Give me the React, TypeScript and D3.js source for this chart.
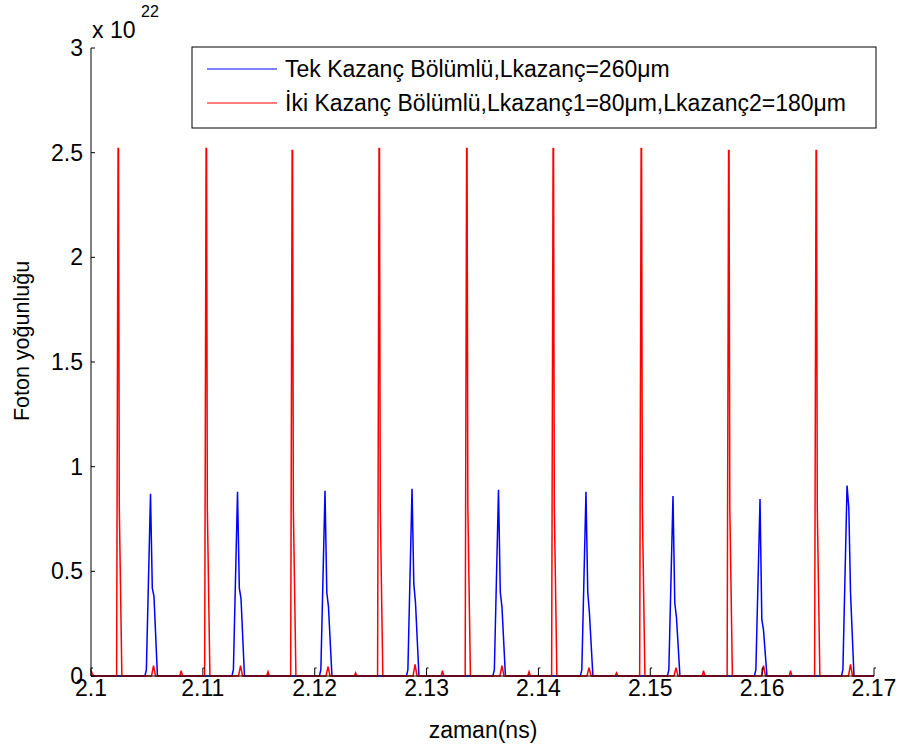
import React from 'react';
import * as d3 from 'd3';

// tick labels
const xTicks = [2.1, 2.11, 2.12, 2.13, 2.14, 2.15, 2.16, 2.17];
const yTicks = [0, 0.5, 1, 1.5, 2, 2.5, 3];

// blue series: single gain section pulses (ns, x1e22)
const bluePeakTimes = [2.10532, 2.1131, 2.12092, 2.1287, 2.13643, 2.14425, 2.15203, 2.15981, 2.16759];
const bluePeakValues = [0.87, 0.88, 0.885, 0.895, 0.89, 0.88, 0.86, 0.845, 0.91];
const blueShoulderA = [0.42, 0.42, 0.4, 0.44, 0.4, 0.4, 0.35, 0.27, 0.8];
const blueShoulderB = [0.38, 0.37, 0.33, 0.35, 0.33, 0.3, 0.28, 0.22, 0.4];
const bluePulseOffsets = [-0.0005, -0.00037, 0, 0.00016, 0.00031, 0.00062];

// red series: two gain section pulses
const redSpikeTimes = [2.10244, 2.11031, 2.118, 2.12577, 2.1336, 2.14133, 2.1492, 2.15702, 2.16484];
const redSpikeValues = [2.52, 2.52, 2.51, 2.52, 2.52, 2.52, 2.52, 2.51, 2.51];
const redSpikeOffsets = [-0.00015, -0.00002, 0.00002, 0.00009, 0.00032];
const redSpikeShape = [0, 1, 1, 0.32, 0];
const redBumpTimes = [2.10559, 2.11337, 2.12119, 2.12897, 2.13674, 2.14452, 2.1523, 2.16012, 2.1679];
const redBumpValues = [0.05, 0.05, 0.045, 0.055, 0.05, 0.04, 0.04, 0.05, 0.055];
const redMidTimes = [2.10806, 2.11582, 2.12365, 2.13142, 2.13916, 2.14698, 2.15476, 2.16254];
const redMidValues = [0.025, 0.02, 0.015, 0.025, 0.02, 0.015, 0.025, 0.025];

const blueLabel = 'Tek Kazanç Bölümlü,Lkazanç=260μm';
const redLabel = 'İki Kazanç Bölümlü,Lkazanç1=80μm,Lkazanç2=180μm';

type Pt = [number, number];

function buildBlue(): Pt[] {
  const pts: Pt[] = [[2.1, 0]];
  bluePeakTimes.forEach((t, i) => {
    const vals = [0, 0.03, bluePeakValues[i], blueShoulderA[i], blueShoulderB[i], 0];
    bluePulseOffsets.forEach((o, j) => pts.push([t + o, vals[j]]));
  });
  pts.push([2.17, 0]);
  return pts;
}

function buildRed(): Pt[] {
  const pts: Pt[] = [[2.1, 0.025], [2.10022, 0]];
  redSpikeTimes.forEach((t, i) => {
    redSpikeOffsets.forEach((o, j) => pts.push([t + o, redSpikeValues[i] * redSpikeShape[j]]));
  });
  redBumpTimes.forEach((t, i) => {
    pts.push([t - 0.00018, 0], [t, redBumpValues[i]], [t + 0.00018, 0]);
  });
  redMidTimes.forEach((t, i) => {
    pts.push([t - 0.00012, 0], [t, redMidValues[i]], [t + 0.00012, 0]);
  });
  pts.push([2.17, 0]);
  return pts.sort((a, b) => a[0] - b[0]);
}

export default function App() {
  const width = 902, height = 747;
  const left = 91, right = 874, top = 48, bottom = 676;
  const x = d3.scaleLinear().domain([2.1, 2.17]).range([left, right]);
  const y = d3.scaleLinear().domain([0, 3]).range([bottom, top]);
  const line = d3.line<Pt>().x(d => x(d[0])).y(d => y(d[1]));
  const font = 'Arial, "Liberation Sans", sans-serif';

  return (
    <svg width={width} height={height} style={{ position: 'absolute', left: 0, top: 0, background: '#fff' }}
      fontFamily={font}>
      <rect width={width} height={height} fill="#fff" />
      <path d={line(buildBlue()) || ''} fill="none" stroke="#0000ff" strokeWidth={1.5} />
      <path d={line(buildRed()) || ''} fill="none" stroke="#ff0000" strokeWidth={1.5} />

      {/* axes */}
      <line x1={left} x2={left} y1={top} y2={bottom} stroke="#000" />
      <line x1={left} x2={right} y1={bottom} y2={bottom} stroke="#000" />
      {xTicks.map(t => (
        <g key={t}>
          <path d={`M${x(t)},${bottom}V${bottom - 8}h2`} fill="none" stroke="#000" />
          <text x={x(t)} y={bottom + 20} textAnchor="middle" fontSize={23}>{t}</text>
        </g>
      ))}
      {yTicks.map(t => (
        <g key={t}>
          <line x1={left} x2={left + 4} y1={y(t)} y2={y(t)} stroke="#000" />
          <text x={left - 8} y={y(t) + 8} textAnchor="end" fontSize={23}>{t}</text>
        </g>
      ))}
      <text x={left + 1} y={38} fontSize={23}>x 10</text>
      <text x={141} y={17} fontSize={16}>22</text>

      <text x={483} y={738} textAnchor="middle" fontSize={23}>zaman(ns)</text>
      <text transform="translate(29,341) rotate(-90)" textAnchor="middle" fontSize={21.5}>Foton yoğunluğu</text>

      {/* legend */}
      <rect x={192} y={47} width={684} height={81} fill="#fff" stroke="#000" />
      <line x1={207} x2={277} y1={69} y2={69} stroke="#0000ff" />
      <text x={285} y={77} fontSize={23}>{blueLabel}</text>
      <line x1={207} x2={277} y1={103} y2={103} stroke="#ff0000" />
      <text x={285} y={111} fontSize={23}>{redLabel}</text>
    </svg>
  );
}
